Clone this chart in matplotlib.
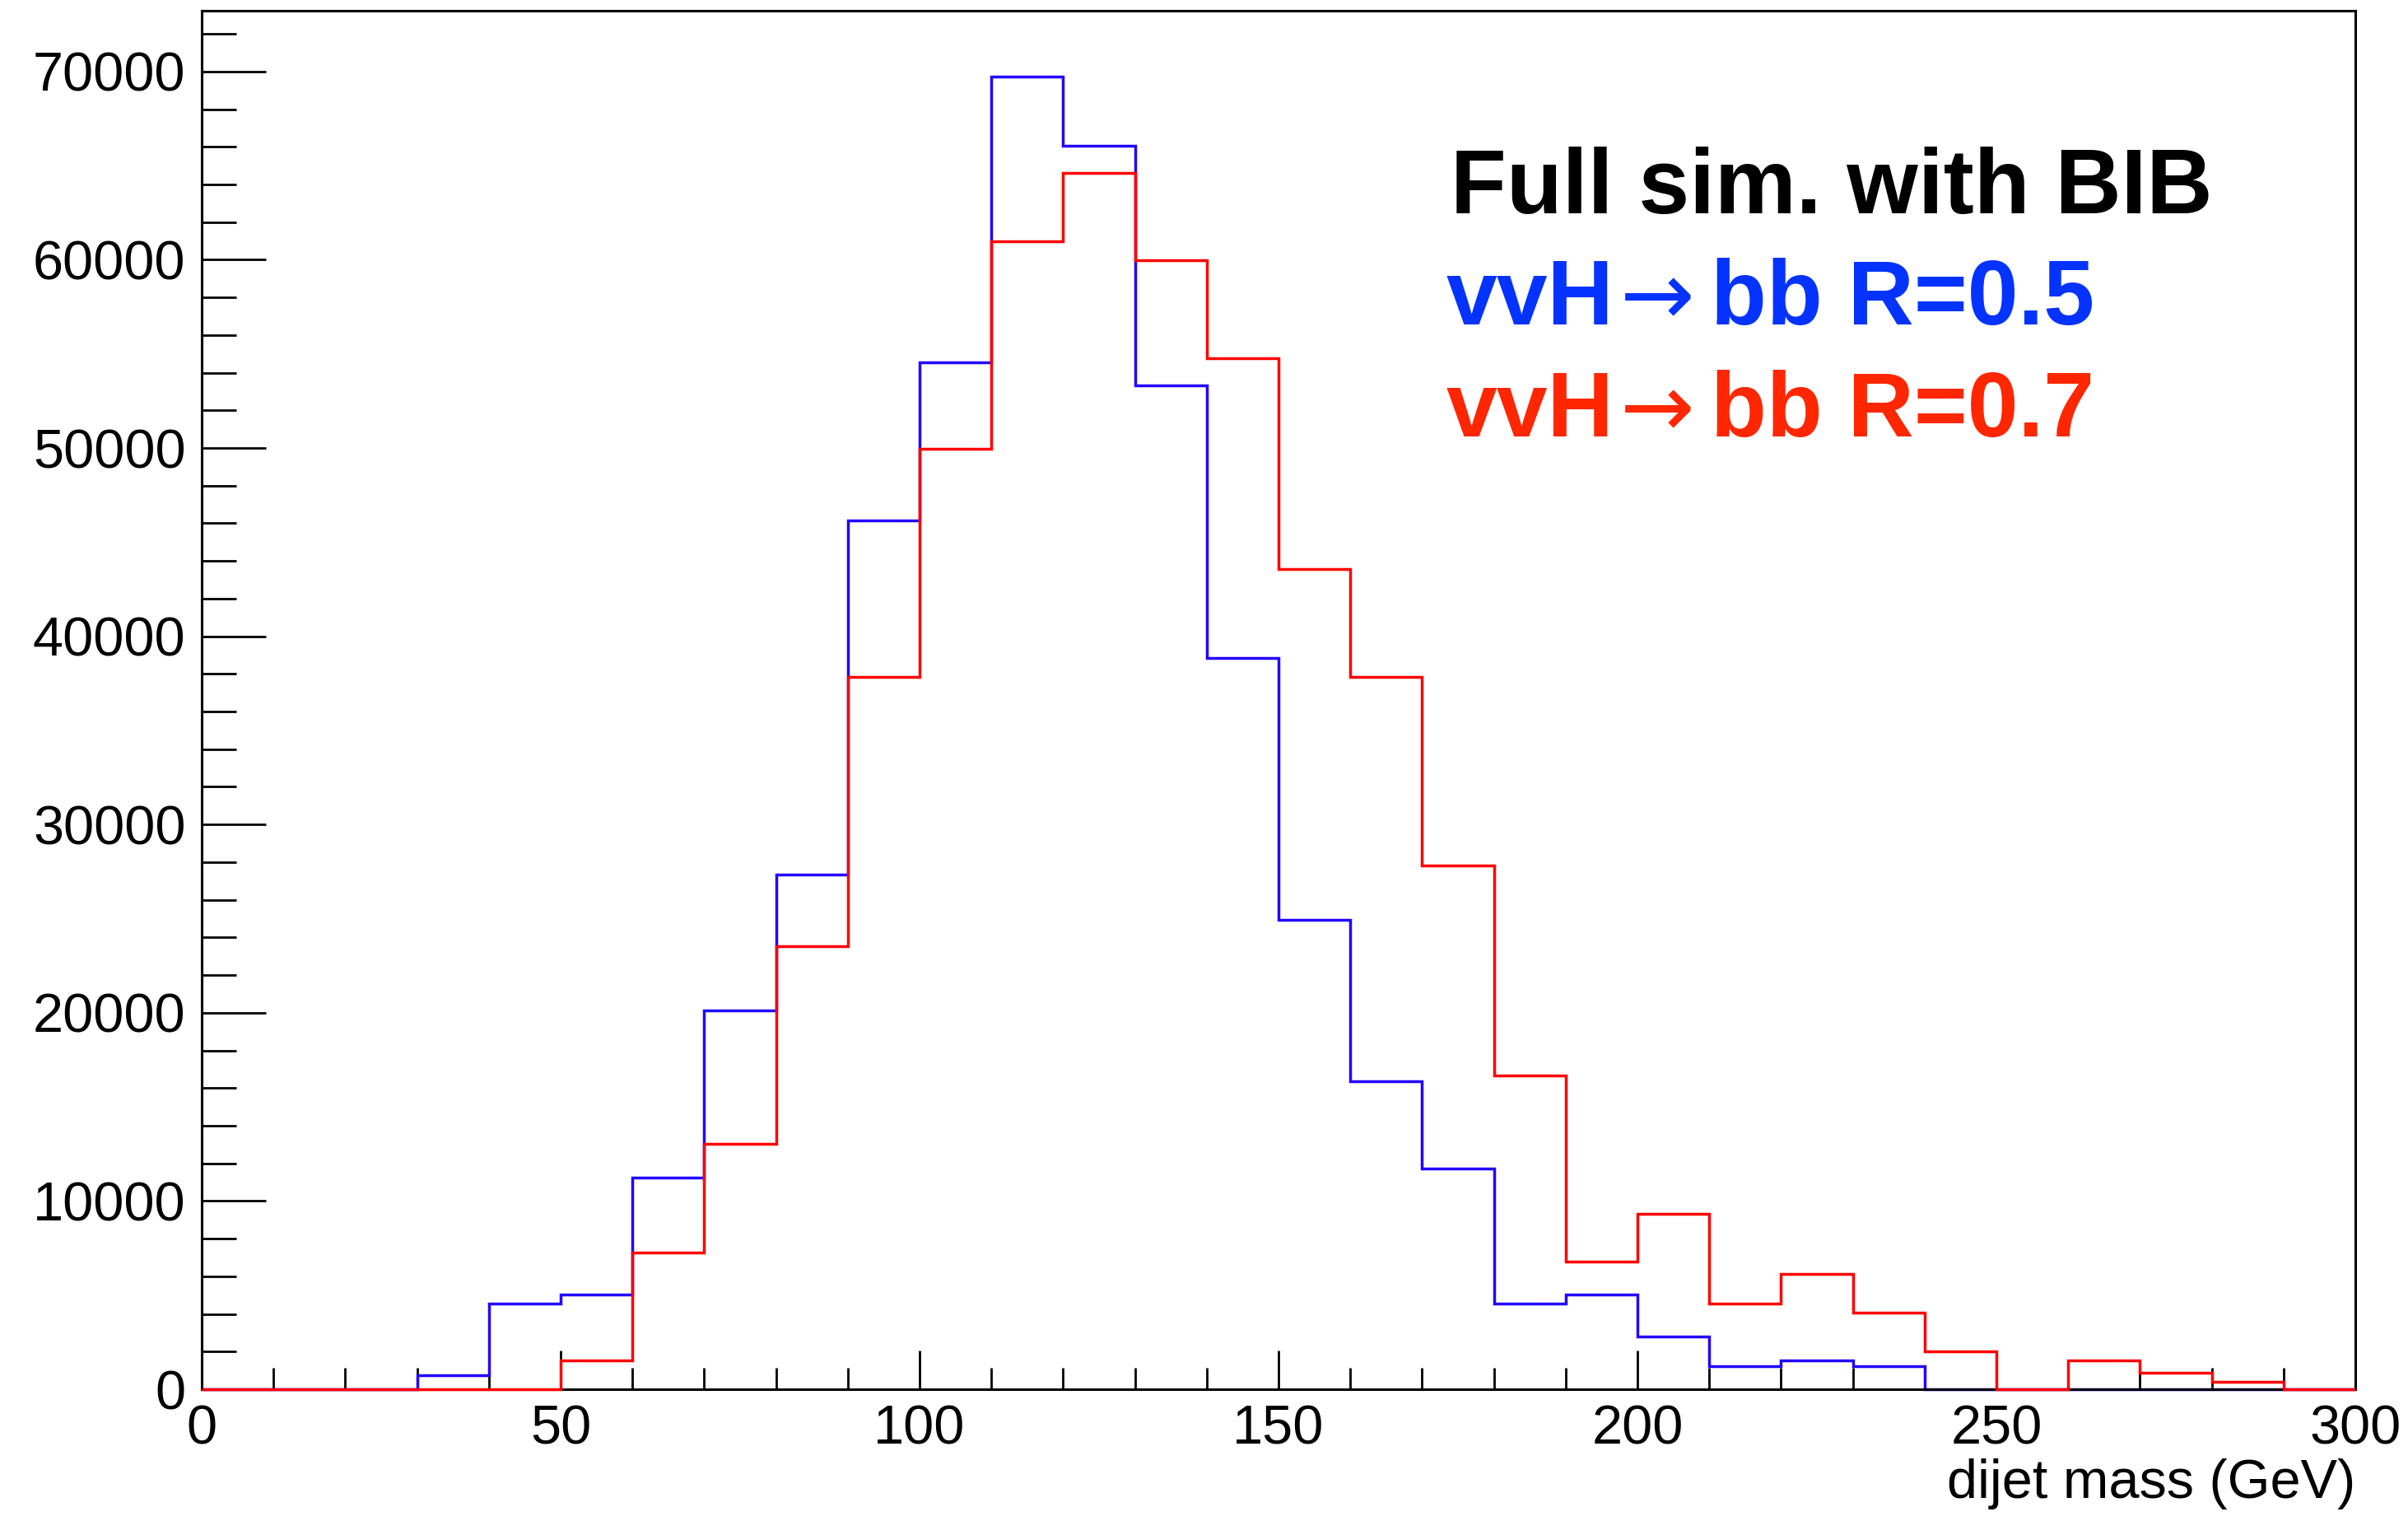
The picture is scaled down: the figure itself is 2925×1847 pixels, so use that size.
import numpy as np
import matplotlib
matplotlib.use("Agg")
import matplotlib.pyplot as plt
from matplotlib.ticker import MultipleLocator

plt.rcParams['font.family'] = ['Liberation Sans', 'DejaVu Sans']

# --- dijet mass histograms, 10 GeV bins from 0 to 300 ---
bin_edges = list(range(0, 310, 10))
counts_r05 = [0, 0, 0, 740, 4560, 5020, 11240, 20140, 27330, 46140,
              54550, 69720, 66070, 53310, 38830, 24950, 16350, 11720, 4540, 5050,
              2810, 1210, 1520, 1210, 0, 0, 0, 0, 0, 0]
counts_r07 = [0, 0, 0, 0, 0, 1520, 7280, 13020, 23520, 37850,
              49960, 60970, 64610, 59990, 54770, 43580, 37850, 27820, 16670, 6790,
              9320, 4560, 6140, 4070, 2010, 0, 1520, 890, 410, 0]

title_text = "Full sim. with BIB"
# legend lines split in pieces: process, arrow, final state
label_r05 = ["vvH", "\u2192", "bb R=0.5"]
label_r07 = ["vvH", "\u2192", "bb R=0.7"]
x_label = "dijet mass (GeV)"

W, H = 2925, 1847
fig = plt.figure(figsize=(W / 100, H / 100), dpi=100)
ax = fig.add_axes([245 / W, 1 - 1687 / H, (2861 - 245) / W, (1687 - 13) / H])

# blue first (under the frame), red drawn afterwards on top like ROOT "same"
ax.stairs(counts_r05, bin_edges, color='#2200ff', linewidth=2.5, zorder=2, clip_on=False)
ax.stairs(counts_r07, bin_edges, color='#ff0000', linewidth=2.5, zorder=3, clip_on=False)

ax.set_xlim(0, 300)
ax.set_ylim(0, 73230)

for s in ax.spines.values():
    s.set_linewidth(2.2)

ax.xaxis.set_major_locator(MultipleLocator(50))
ax.xaxis.set_minor_locator(MultipleLocator(10))
ax.yaxis.set_major_locator(MultipleLocator(10000))
ax.yaxis.set_minor_locator(MultipleLocator(2000))

ax.tick_params(axis='x', which='major', direction='in', length=34, width=2.0,
               labelsize=48, pad=13, top=False)
ax.tick_params(axis='x', which='minor', direction='in', length=19, width=2.0, top=False)
ax.tick_params(axis='y', which='major', direction='in', length=56, width=2.0,
               labelsize=48, pad=14, right=False)
ax.tick_params(axis='y', which='minor', direction='in', length=30, width=2.0, right=False)

ax.set_xlabel(x_label, fontsize=48, loc='right', labelpad=3)

fig.text(1762 / W, 1 - 259 / H, title_text, fontsize=80, fontweight='bold',
         color='black', va='baseline', ha='left')

def legend_line(parts, y_base, color):
    proc, arrow, final = parts
    fig.text(1757 / W, 1 - y_base / H, proc, fontsize=80, fontweight='bold',
             color=color, va='baseline', ha='left')
    fig.text(1968 / W, 1 - y_base / H, arrow, fontsize=78, family='DejaVu Sans',
             color=color, va='baseline', ha='left')
    fig.text(2078 / W, 1 - y_base / H, final, fontsize=80, fontweight='bold',
             color=color, va='baseline', ha='left')

legend_line(label_r05, 394, '#0433ff')
legend_line(label_r07, 530, '#ff2600')

fig.savefig("out.png", dpi=100)
